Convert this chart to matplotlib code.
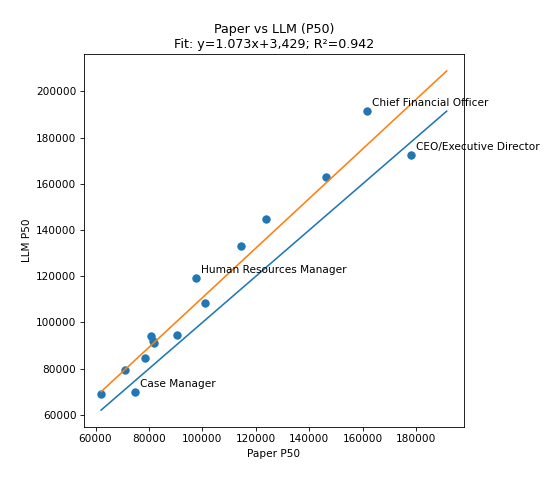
import numpy as np
import matplotlib
matplotlib.use("Agg")
import matplotlib.pyplot as plt

# values
paper_p50 = [62100, 70900, 74600, 78400, 80900, 81700, 81400, 90600,
             97500, 100800, 114400, 123800, 146400, 161400, 178100]
llm_p50 = [69100, 79400, 69800, 84700, 94200, 91000, 92000, 94700,
           119100, 108400, 133100, 144700, 163000, 191400, 172300]

label_names = ["Case Manager", "Human Resources Manager",
               "Chief Financial Officer", "CEO/Executive Director"]
label_idx = [2, 8, 13, 14]

slope = 1.073
intercept = 3429
r2 = 0.942

x = np.array(paper_p50)
y = np.array(llm_p50)

DPI = 76
fig, ax = plt.subplots(figsize=(559 / DPI, 482 / DPI), dpi=DPI)
ax.scatter(x, y, s=48)

lo = min(x.min(), y.min())
hi = max(x.max(), y.max())
lims = np.array([lo, hi])
ax.plot(lims, lims)
ax.plot(lims, slope * lims + intercept)

for name, i in zip(label_names, label_idx):
    ax.annotate(name, (x[i], y[i]), xytext=(5, 5), textcoords="offset points")

ax.set_xlabel("Paper P50")
ax.set_ylabel("LLM P50")
ax.set_title(f"Paper vs LLM (P50)\nFit: y={slope:.3f}x+{intercept:,}; R²={r2:.3f}")

fig.subplots_adjust(left=0.150, right=0.830, bottom=0.114, top=0.888)
fig.savefig("out.png", dpi=DPI)
